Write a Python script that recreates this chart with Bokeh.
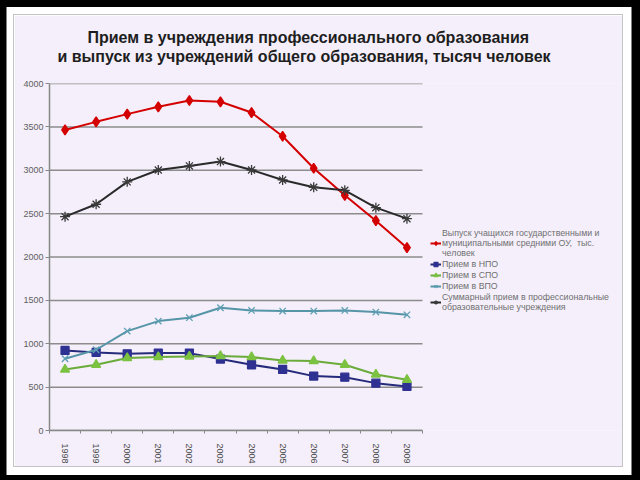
from bokeh.plotting import figure
from bokeh.models import (FixedTicker, Legend, LegendItem, Title, ColumnDataSource)
from bokeh.embed import file_html
from bokeh.resources import INLINE

# ---- data ----
years = [1998, 1999, 2000, 2001, 2002, 2003, 2004, 2005, 2006, 2007, 2008, 2009]
year_labels = ["1998", "1999", "2000", "2001", "2002", "2003", "2004", "2005",
               "2006", "2007", "2008", "2009"]
vypusk = [3465, 3558, 3647, 3731, 3804, 3789, 3665, 3392, 3023, 2711, 2419, 2107]
npo = [923, 900, 884, 892, 892, 823, 758, 704, 627, 615, 546, 508]
spo = [704, 758, 835, 846, 854, 858, 846, 808, 800, 758, 646, 585]
vpo = [827, 931, 1146, 1261, 1300, 1415, 1384, 1377, 1377, 1384, 1365, 1334]
summ = [2465, 2608, 2866, 3003, 3050, 3100, 3003, 2888, 2804, 2769, 2569, 2442]
y_ticks = [0, 500, 1000, 1500, 2000, 2500, 3000, 3500, 4000]

title1 = "Прием в учреждения профессионального образования"
title2 = "и выпуск из учреждений общего образования, тысяч человек"
names = ["Выпуск учащихся государственными и\nмуниципальными средними ОУ,  тыс.\nчеловек",
         "Прием в НПО", "Прием в СПО", "Прием в ВПО",
         "Суммарный прием в профессиональные\nобразовательные учреждения"]

BG = "#f4effa"
FONT = "Liberation Sans"

# category slots of ~31 px; the frame also spans the legend area on the right
x_start = years[0] - 0.5
x_end_axis = years[-1] + 0.5
frame_w, frame_h = 573, 347
slot_px = 373 / len(years)
x_end = x_start + frame_w / slot_px

p = figure(frame_width=frame_w, frame_height=frame_h, output_backend="svg",
           toolbar_location=None,
           x_range=(x_start, x_end), y_range=(0, 4000),
           background_fill_color=BG, border_fill_color=BG,
           min_border_left=35, min_border_right=0, min_border_top=68,
           min_border_bottom=33, margin=(15, 0, 0, 14))
p.styles = {"box-shadow": "1px 0.5px 0 8.5px white, 0 0 0 40px black",
            "outline": "1px solid #c4c4c4"}
p.outline_line_color = None

# titles (spacer nearest the frame, then line 2, then line 1)
p.add_layout(Title(text=" ", standoff=16, text_font_size="1px"), "above")
p.add_layout(Title(text=title2, align="left", offset=8, standoff=0,
                   text_font=FONT, text_font_size="16px", text_font_style="bold",
                   text_color="#1e1e1e"), "above")
p.add_layout(Title(text=title1, align="left", offset=38, standoff=0,
                   text_font=FONT, text_font_size="16px", text_font_style="bold",
                   text_color="#1e1e1e"), "above")

# horizontal grid lines limited to the category area
p.segment(x0=[x_start] * len(y_ticks), x1=[x_end_axis] * len(y_ticks),
          y0=y_ticks, y1=y_ticks, line_color="#8c8c8c", line_width=1.5)

src = ColumnDataSource(dict(x=years, vypusk=vypusk, npo=npo, spo=spo, vpo=vpo, summ=summ))

series = [
    ("vypusk", "#d40000", "#d40000", "diamond", 10, 2),
    ("npo", "#262a7a", "#2e3192", "square", 8, 2),
    ("spo", "#6aab3a", "#7cc242", "triangle", 9, 2),
    ("vpo", "#5694a8", "#5f9fb3", "x", 9, 2),
    ("summ", "#2a2a2a", "#3a3a3a", "asterisk", 10, 2),
]
items = []
for (col, lc, mc, mk, sz, lw), nm in zip(series, names):
    r1 = p.line("x", col, source=src, line_color=lc, line_width=lw)
    r2 = p.scatter("x", col, source=src, marker=mk, size=sz, fill_color=mc,
                   line_color=mc, line_width=1.3)
    items.append(LegendItem(label=nm, renderers=[r1, r2]))

legend = Legend(items=items, location=(381, 118), padding=0, margin=0, spacing=1,
                glyph_width=11, glyph_height=10, label_height=10, label_standoff=1,
                label_text_font=FONT, label_text_font_size="8.8px",
                label_text_color="#707070", border_line_color=None,
                background_fill_alpha=0)
p.add_layout(legend, "center")

# axes
xa = p.xaxis[0]
xa.bounds = (x_start, x_end_axis)
xa.ticker = FixedTicker(ticks=years, minor_ticks=[y - 0.5 for y in years] + [x_end_axis])
xa.major_label_overrides = {y: l for y, l in zip(years, year_labels)}
xa.major_label_orientation = "vertical"
xa.major_tick_out = 0
xa.major_tick_in = 0
xa.minor_tick_out = 3
xa.minor_tick_in = 0
xa.minor_tick_line_color = "#888888"
xa.axis_line_color = "#888888"
xa.axis_line_width = 1.5
xa.major_label_standoff = 10
xa.major_label_text_font = FONT
xa.major_label_text_font_size = "9px"
xa.major_label_text_color = "#4a4a4a"

ya = p.yaxis[0]
ya.ticker = FixedTicker(ticks=y_ticks, minor_ticks=[])
ya.axis_line_color = "#888888"
ya.axis_line_width = 1.5
ya.major_tick_out = 4
ya.major_tick_in = 0
ya.major_tick_line_color = "#888888"
ya.major_label_standoff = 2
ya.major_label_text_font = FONT
ya.major_label_text_font_size = "9px"
ya.major_label_text_color = "#606060"

p.xgrid.visible = False
p.ygrid.visible = False

open("out.html", "w").write(file_html(p, INLINE))
